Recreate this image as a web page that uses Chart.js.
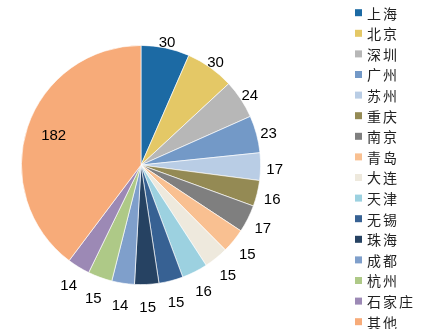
<!DOCTYPE html>
<html>
<head>
<meta charset="utf-8">
<script src="https://cdn.jsdelivr.net/npm/chart.js@4.4.0/dist/chart.umd.min.js"></script>
<style>
  html, body { margin: 0; padding: 0; background: #fff; }
  #wrap { width: 431px; height: 329px; }
</style>
</head>
<body>
<div id="wrap"><canvas id="cityChart" width="431" height="329"></canvas></div>
<script>
// Cities and their counts
const cities = ['上海', '北京', '深圳', '广州', '苏州', '重庆', '南京', '青岛',
                '大连', '天津', '无锡', '珠海', '成都', '杭州', '石家庄', '其他'];
const counts = [30, 30, 24, 23, 17, 16, 17, 15, 15, 16, 15, 15, 14, 15, 14, 182];
const colors = ['#1C6AA4', '#E4C866', '#B7B7B7', '#7399C7', '#B9CDE5', '#948A54',
                '#7F7F7F', '#F9C091', '#EEE9DD', '#9CD1E0', '#376193', '#264262',
                '#7F9FCB', '#AEC987', '#9C89B5', '#F7AB79'];

// Value labels: outside the rim for small slices, inside for the big one
const valueLabels = {
    id: 'valueLabels',
    afterDatasetsDraw(chart) {
        const ctx = chart.ctx;
        const arcs = chart.getDatasetMeta(0).data;
        ctx.save();
        ctx.font = '15px "Liberation Sans", Arial, sans-serif';
        ctx.fillStyle = '#000';
        ctx.textAlign = 'center';
        ctx.textBaseline = 'middle';
        arcs.forEach((arc, i) => {
            const mid = (arc.startAngle + arc.endAngle) / 2;
            const cx = Math.cos(mid), sy = Math.sin(mid);
            const text = String(counts[i]);
            if (counts[i] > 100) {
                const d = arc.outerRadius * 0.77;
                ctx.fillText(text, arc.x + cx * d, arc.y + sy * d);
                return;
            }
            // lower labels sit a little further from the rim
            const d = arc.outerRadius + 14 + 6 * sy;
            ctx.fillText(text, arc.x + cx * d, arc.y + sy * d + 3);
        });
        ctx.restore();
    }
};

// Legend drawn as a single column on the right
const cityLegend = {
    id: 'cityLegend',
    afterDraw(chart) {
        const ctx = chart.ctx;
        ctx.save();
        ctx.font = '14px "Noto Sans CJK SC", sans-serif';
        ctx.textBaseline = 'middle';
        ctx.textAlign = 'left';
        cities.forEach((name, i) => {
            const y = 12.7 + i * 20.6;
            ctx.fillStyle = colors[i];
            ctx.fillRect(355, y - 3.5, 7, 7);
            ctx.fillStyle = '#222';
            ctx.letterSpacing = '2px';
            ctx.fillText(name, 367, y + 0.5);
        });
        ctx.restore();
    }
};

const config = {
    type: 'pie',
    data: {
        labels: cities,
        datasets: [{
            data: counts,
            backgroundColor: colors,
            borderColor: 'rgba(255,255,255,0.8)',
            borderWidth: 0.8
        }]
    },
    options: {
        responsive: false,
        animation: false,
        layout: {
            padding: { left: 21, right: 170, top: 45, bottom: 44 }
        },
        plugins: {
            legend: { display: false },
            tooltip: { enabled: false }
        }
    },
    plugins: [valueLabels, cityLegend]
};

window.onload = function() {
    const ctx = document.getElementById('cityChart').getContext('2d');
    new Chart(ctx, config);
};
</script>
</body>
</html>
